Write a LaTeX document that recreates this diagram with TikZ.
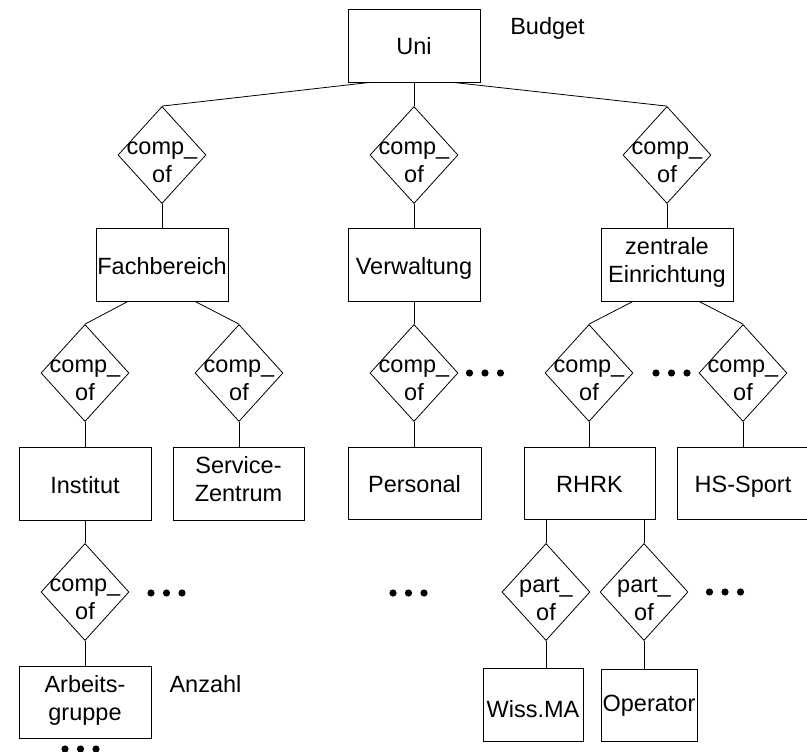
\documentclass[tikz,border=0pt]{standalone}
\usepackage{fontspec}
\setmainfont{Liberation Sans}
\usetikzlibrary{shapes.geometric,calc}
\newcommand\tridots[2]{\foreach \dx in {-15.5,0,15.5} {\fill (#1+\dx,#2) circle[radius=3.6pt];}}
\newcommand\relnode[4]{\node[rel] (#1) at (#2,#3) {}; \node[reltext] (#1t) at (#2,#3+11) {#4};}
\tikzset{
 txtfont/.style={font=\fontsize{23.5}{28}\selectfont},
 ent/.style={draw, line width=0.8pt, inner sep=0pt, minimum width=132pt, minimum height=73pt, align=center, txtfont},
 ent1/.style={ent, text height=19pt, text depth=0pt},
 ent2/.style={ent, execute at begin node=\strut, execute at end node=\strut},
 rel/.style={draw, diamond, line width=0.8pt, inner sep=0pt, minimum width=88pt, minimum height=97pt},
 reltext/.style={align=center, inner sep=0pt, txtfont, execute at begin node=\strut, execute at end node=\strut},
 lbl/.style={anchor=base, inner sep=0pt, txtfont},
 conn/.style={line width=0.8pt},
}
\begin{document}
\begin{tikzpicture}[x=1pt,y=-1pt]
\useasboundingbox (0,0) rectangle (807,752);
\clip (0,0) rectangle (807,752);
% entities
\node[ent1] (uni) at (414,45.5) {Uni};
\node[ent1] (fach) at (162,264.5) {Fachbereich};
\node[ent1] (verw) at (414,264.5) {Verwaltung};
\node[ent2] (zent) at (667,264.5) {zentrale\\Einrichtung};
\node[ent1] (inst) at (85,483.5) {Institut};
\node[ent2, minimum width=131pt] (serv) at (238.5,483.5) {Service-\\Zentrum};
\node[ent1, minimum width=133pt, minimum height=72pt] (pers) at (414.5,483) {Personal};
\node[ent1, minimum width=131pt, minimum height=72pt] (rhrk) at (589.5,483) {RHRK};
\node[ent1, minimum height=72pt] (hss) at (743,483) {HS-Sport};
\node[ent2, minimum height=72pt] (arb) at (85,702) {Arbeits-\\gruppe};
\node[ent, minimum width=100pt, text height=25pt, text depth=0pt] (wiss) at (533,704.5) {Wiss.MA};
\node[ent, minimum width=96pt, minimum height=72pt, text height=13.4pt, text depth=0pt] (oper) at (649,705) {Operator};
% relationships
\relnode{d1}{162}{155}{comp\_\\of}
\relnode{d2}{414}{155}{comp\_\\of}
\relnode{d3}{667}{155}{comp\_\\of}
\relnode{d4}{85}{373}{comp\_\\of}
\relnode{d5}{239}{373}{comp\_\\of}
\relnode{d6}{414}{373}{comp\_\\of}
\relnode{d7}{589}{373}{comp\_\\of}
\relnode{d8}{743}{373}{comp\_\\of}
\relnode{d9}{85}{592}{comp\_\\of}
\relnode{d10}{546}{592}{part\_\\of}
\relnode{d11}{644}{592}{part\_\\of}
% labels
\node[lbl] (budget) at (547.5,35) {Budget};
\node[lbl] (anzahl) at (205.5,692) {Anzahl};
% connectors
\draw[conn] ($(uni.south)+(-44,0)$) -- (d1.north);
\draw[conn] (uni.south) -- (d2.north);
\draw[conn] ($(uni.south)+(39,0)$) -- (d3.north);
\draw[conn] (d1.south) -- (fach.north);
\draw[conn] (d2.south) -- (verw.north);
\draw[conn] (d3.south) -- (zent.north);
\draw[conn] ($(fach.south)+(-34,0)$) -- (d4.north);
\draw[conn] ($(fach.south)+(33,0)$) -- (d5.north);
\draw[conn] (d4.south) -- (inst.north);
\draw[conn] (d5.south) -- (d5.south |- serv.north);
\draw[conn] (verw.south) -- (d6.north);
\draw[conn] (d6.south) -- (d6.south |- pers.north);
\draw[conn] ($(zent.south)+(-34,0)$) -- (d7.north);
\draw[conn] ($(zent.south)+(32,0)$) -- (d8.north);
\draw[conn] (d7.south) -- (d7.south |- rhrk.north);
\draw[conn] (d8.south) -- (hss.north);
\draw[conn] (inst.south) -- (d9.north);
\draw[conn] (d9.south) -- (arb.north);
\draw[conn] (d10.north |- rhrk.south) -- (d10.north);
\draw[conn] (d11.north |- rhrk.south) -- (d11.north);
\draw[conn] (d10.south) -- (d10.south |- wiss.north);
\draw[conn] (d11.south) -- (d11.south |- oper.north);
% ellipsis dots
\tridots{166.5}{593}
\tridots{485}{373}
\tridots{671.5}{373}
\tridots{408.5}{593}
\tridots{725}{592}
\tridots{80.5}{749}
\end{tikzpicture}
\end{document}
